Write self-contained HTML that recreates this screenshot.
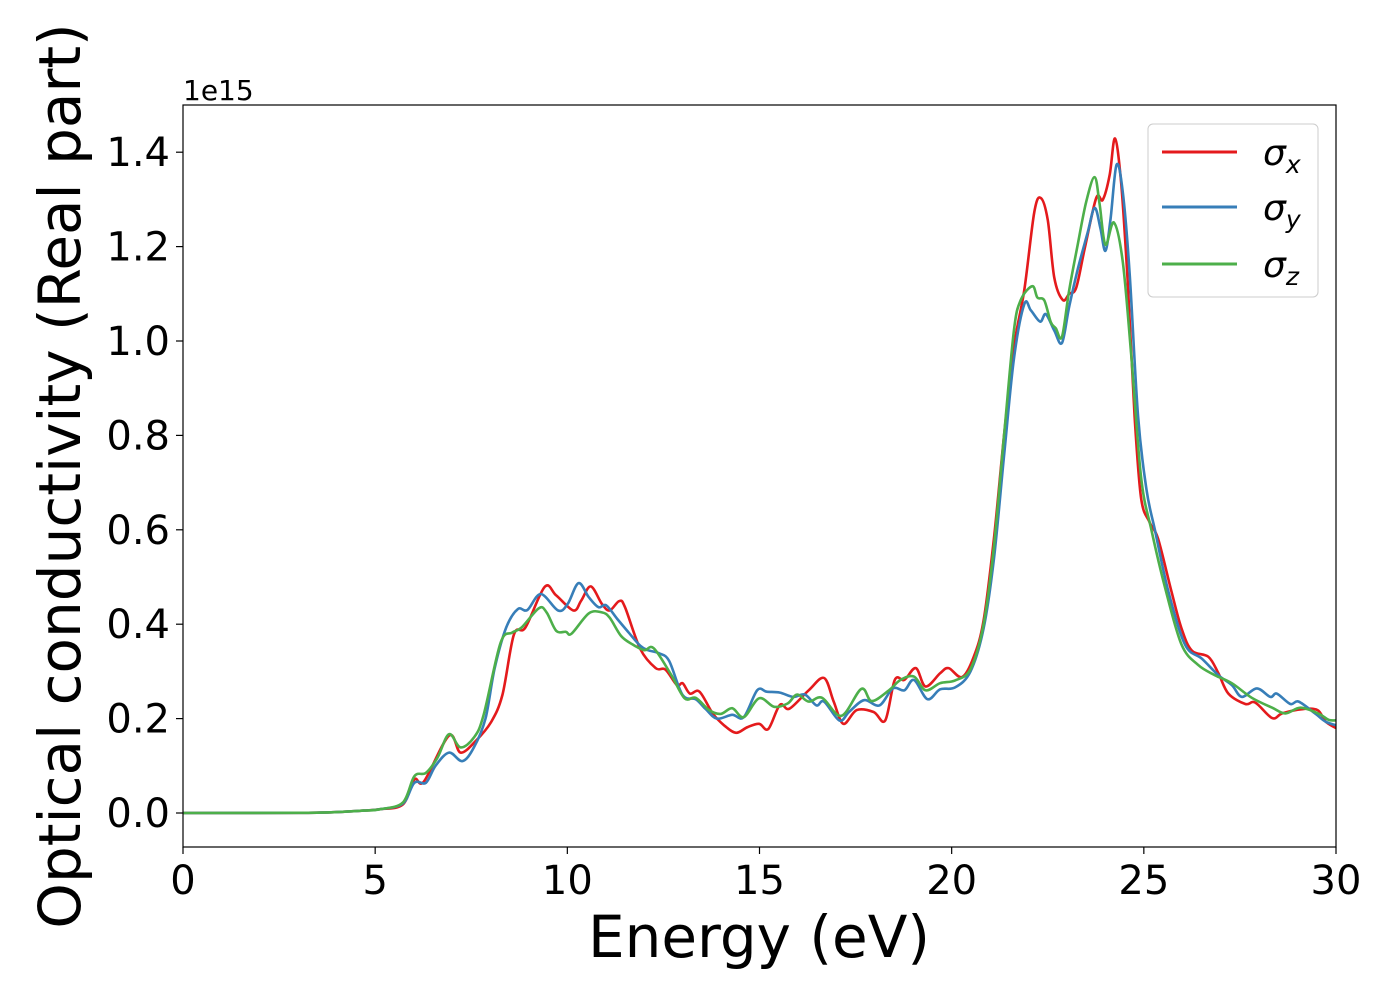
<!DOCTYPE html>
<html><head><meta charset="utf-8"><style>
html,body{margin:0;padding:0;background:#fff;}
svg{display:block;font-family:"DejaVu Sans","Liberation Sans",sans-serif;}
</style></head><body>
<svg id="chart" width="1400" height="1000" viewBox="0 0 1400 1000" xmlns="http://www.w3.org/2000/svg">
<defs><clipPath id="clip"><rect x="183" y="105" width="1153" height="742"/></clipPath></defs>
<rect x="183" y="105" width="1153" height="742" fill="#fff"/>
<g id="series" clip-path="url(#clip)"></g>
<rect x="183" y="105" width="1153" height="742" fill="none" stroke="#000" stroke-width="1.2"/>
<g id="xticks"></g><g id="yticks"></g>
<text x="183" y="100" font-size="28">1e15</text>
<text x="759" y="957" font-size="58" text-anchor="middle">Energy (eV)</text>
<text transform="translate(80,476) rotate(-90)" font-size="58" text-anchor="middle">Optical conductivity (Real part)</text>
<g>
<rect x="1148" y="124" width="170" height="173" rx="5" fill="#fff" fill-opacity="0.8" stroke="#ccc" stroke-width="1"/>
<line x1="1162" x2="1237" y1="152" y2="152" stroke="#e41a1c" stroke-width="3"/>
<text x="1263" y="165" font-size="36" font-style="italic">σ<tspan font-size="25" dy="8">x</tspan></text>
<line x1="1162" x2="1237" y1="207" y2="207" stroke="#377eb8" stroke-width="3"/>
<text x="1263" y="220" font-size="36" font-style="italic">σ<tspan font-size="25" dy="8">y</tspan></text>
<line x1="1162" x2="1237" y1="264" y2="264" stroke="#4daf4a" stroke-width="3"/>
<text x="1263" y="277" font-size="36" font-style="italic">σ<tspan font-size="25" dy="8">z</tspan></text>
</g>
</svg>
<script>
const xTicks=[0,5,10,15,20,25,30];
const yTicks=[0,0.2,0.4,0.6,0.8,1.0,1.2,1.4];
const yTickLabels=["0.0","0.2","0.4","0.6","0.8","1.0","1.2","1.4"];
const eX=[0,3,4,4.7,5.13,5.72,6.02,6.27,6.92,7.22,7.62,8.01,8.31,8.61,8.91,9.41,9.71,10.16,10.36,10.61,10.9,11.1,11.35,11.5,11.9,12.3,12.55,12.85,13.0,13.19,13.44,13.79,14.09,14.39,14.69,14.99,15.23,15.53,15.78,16.28,16.68,16.93,17.18,17.53,17.97,18.27,18.52,18.77,19.07,19.32,19.7,19.92,20.27,20.57,20.83,21.1,21.36,21.62,21.89,22.15,22.32,22.5,22.67,22.89,23.06,23.24,23.46,23.76,23.93,24.11,24.25,24.41,24.58,24.76,24.93,25.15,25.37,25.72,25.98,26.25,26.68,26.94,27.2,27.64,27.9,28.34,28.6,29.12,29.52,29.74,30.09];
const sX=[0,0.0005,0.002,0.005,0.008,0.018,0.071,0.067,0.164,0.128,0.153,0.192,0.25,0.378,0.393,0.479,0.461,0.429,0.45,0.48,0.443,0.429,0.449,0.436,0.347,0.307,0.304,0.271,0.275,0.253,0.257,0.21,0.185,0.17,0.182,0.189,0.178,0.229,0.221,0.26,0.286,0.236,0.189,0.218,0.214,0.196,0.282,0.282,0.307,0.268,0.296,0.307,0.288,0.33,0.408,0.581,0.797,0.987,1.108,1.273,1.303,1.256,1.134,1.087,1.1,1.113,1.195,1.303,1.299,1.351,1.429,1.334,1.126,0.84,0.667,0.616,0.581,0.469,0.391,0.344,0.331,0.296,0.253,0.231,0.234,0.201,0.211,0.22,0.218,0.193,0.176];
const eY=[0,3,4,4.7,5.13,5.72,6.02,6.32,6.57,6.92,7.27,7.57,7.87,8.11,8.41,8.71,8.96,9.31,9.76,10.01,10.29,10.56,10.81,11.01,11.3,11.6,11.9,12.1,12.4,12.65,13.0,13.34,13.59,13.89,14.29,14.59,14.94,15.19,15.53,15.88,16.18,16.48,16.68,17.08,17.33,17.72,18.12,18.47,18.77,19.02,19.37,19.7,20.09,20.49,20.83,21.1,21.36,21.62,21.89,22.06,22.3,22.45,22.67,22.87,23.06,23.28,23.54,23.72,23.87,24.0,24.13,24.29,24.45,24.63,24.85,25.07,25.29,25.64,26.07,26.51,26.94,27.29,27.55,27.94,28.29,28.46,28.81,29.03,29.47,29.74,30.09];
const sY=[0,0.0005,0.002,0.005,0.008,0.02,0.064,0.064,0.1,0.128,0.11,0.139,0.2,0.307,0.393,0.432,0.43,0.464,0.429,0.443,0.487,0.457,0.436,0.44,0.411,0.382,0.354,0.345,0.338,0.322,0.25,0.241,0.221,0.2,0.208,0.203,0.26,0.257,0.255,0.246,0.251,0.228,0.236,0.196,0.214,0.239,0.228,0.264,0.26,0.282,0.241,0.262,0.266,0.3,0.391,0.538,0.754,0.962,1.078,1.065,1.041,1.057,1.022,0.996,1.074,1.152,1.23,1.282,1.239,1.191,1.256,1.373,1.317,1.144,0.84,0.685,0.599,0.469,0.357,0.327,0.292,0.271,0.246,0.264,0.246,0.253,0.231,0.236,0.21,0.193,0.184];
const eZ=[0,3,4,4.7,5.13,5.72,6.02,6.32,6.62,6.92,7.22,7.57,7.82,8.26,8.56,8.81,9.26,9.46,9.71,9.96,10.11,10.56,10.9,11.1,11.4,11.7,12.0,12.25,12.7,13.05,13.34,13.69,13.99,14.29,14.59,14.99,15.38,15.73,15.98,16.28,16.63,17.13,17.65,17.92,18.37,18.67,19.02,19.32,19.7,20.09,20.49,20.83,21.1,21.36,21.62,21.8,22.1,22.23,22.41,22.58,22.71,22.87,23.06,23.28,23.5,23.72,23.85,24.0,24.22,24.45,24.67,24.93,25.2,25.55,25.98,26.41,26.85,27.29,27.81,28.34,28.68,29.08,29.56,29.82,30.09];
const sZ=[0,0.0005,0.002,0.005,0.008,0.022,0.078,0.085,0.117,0.167,0.139,0.16,0.207,0.36,0.382,0.393,0.434,0.425,0.386,0.384,0.38,0.423,0.425,0.414,0.375,0.357,0.345,0.349,0.293,0.243,0.244,0.218,0.21,0.222,0.203,0.243,0.225,0.232,0.251,0.236,0.244,0.206,0.263,0.237,0.26,0.282,0.289,0.26,0.275,0.281,0.305,0.4,0.564,0.797,1.022,1.087,1.116,1.092,1.086,1.04,1.027,1.009,1.109,1.204,1.295,1.347,1.29,1.204,1.251,1.169,0.971,0.711,0.599,0.478,0.357,0.314,0.292,0.275,0.244,0.223,0.211,0.223,0.21,0.197,0.197];
const X0=183,X1=1336,Y0v=813,YPX=472;
function xs(e){return X0+(e-0)/30*(X1-X0);}
function ys(v){return Y0v-v*YPX;}
const NS="http://www.w3.org/2000/svg";
function pathFrom(E,V){
  const p=E.map((e,i)=>[xs(e),ys(V[i])]);
  let d="M"+p[0][0].toFixed(1)+","+p[0][1].toFixed(1);
  for(let i=0;i<p.length-1;i++){
    const a=p[Math.max(i-1,0)],b=p[i],c=p[i+1],n=p[Math.min(i+2,p.length-1)];
    const c1=[b[0]+(c[0]-a[0])/6,b[1]+(c[1]-a[1])/6],c2=[c[0]-(n[0]-b[0])/6,c[1]-(n[1]-b[1])/6];
    d+="C"+c1[0].toFixed(1)+","+c1[1].toFixed(1)+" "+c2[0].toFixed(1)+","+c2[1].toFixed(1)+" "+c[0].toFixed(1)+","+c[1].toFixed(1);
  }
  return d;
}
const g=document.getElementById('series');
[[eX,sX,'#e41a1c','sigma-x-line'],[eY,sY,'#377eb8','sigma-y-line'],[eZ,sZ,'#4daf4a','sigma-z-line']].forEach(s=>{
  const el=document.createElementNS(NS,'path');
  el.setAttribute('d',pathFrom(s[0],s[1]));
  el.setAttribute('fill','none');el.setAttribute('stroke',s[2]);el.setAttribute('stroke-width','2.6');el.setAttribute('stroke-linejoin','round');
  
  
  g.appendChild(el);
});
const xt=document.getElementById('xticks');
xTicks.forEach(t=>{
  const l=document.createElementNS(NS,'line');
  l.setAttribute('x1',xs(t));l.setAttribute('x2',xs(t));l.setAttribute('y1',847);l.setAttribute('y2',854);l.setAttribute('stroke','#000');l.setAttribute('stroke-width','1.2');
  
  
  xt.appendChild(l);
  const tx=document.createElementNS(NS,'text');
  tx.setAttribute('x',xs(t));tx.setAttribute('y',894);tx.setAttribute('font-size','40');tx.setAttribute('text-anchor','middle');
  tx.textContent=t;
  
  
  xt.appendChild(tx);
});
const yt=document.getElementById('yticks');
yTicks.forEach((t,i)=>{
  const l=document.createElementNS(NS,'line');
  l.setAttribute('x1',176);l.setAttribute('x2',183);l.setAttribute('y1',ys(t));l.setAttribute('y2',ys(t));l.setAttribute('stroke','#000');l.setAttribute('stroke-width','1.2');
  
  
  yt.appendChild(l);
  const tx=document.createElementNS(NS,'text');
  tx.setAttribute('x',170);tx.setAttribute('y',ys(t)+14);tx.setAttribute('font-size','40');tx.setAttribute('text-anchor','end');
  tx.textContent=yTickLabels[i];
  
  
  yt.appendChild(tx);
});
</script>
</body></html>
